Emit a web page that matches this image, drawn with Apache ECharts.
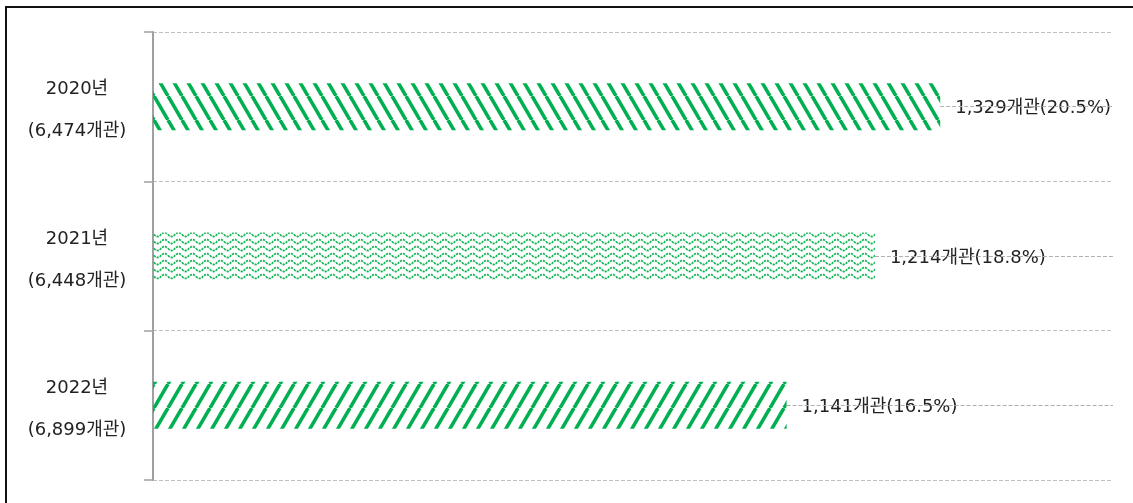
<!DOCTYPE html>
<html>
<head>
<meta charset="utf-8">
<script src="https://cdn.jsdelivr.net/npm/echarts@6/dist/echarts.min.js"></script>
<style>
  html, body { margin: 0; padding: 0; background: #fff; overflow: hidden; }
  #frame { position: absolute; left: 5px; top: 6px; width: 1140px; height: 520px;
           border-left: 2px solid #111; border-top: 2px solid #111; }
  #chart { position: absolute; left: 0; top: 0; width: 1133px; height: 503px; }
</style>
</head>
<body>
<div id="frame"></div>
<div id="chart"></div>
<script>
// ---- data ----
var years = ['2020년', '2021년', '2022년'];
var totals = ['6,474', '6,448', '6,899'];
var counts = ['1,329', '1,214', '1,141'];
var percents = [20.5, 18.8, 16.5];
var axisMax = 25;

// ---- patterns ----
function stripePattern(dir) {
  var w = 14, h = 24;
  var c = document.createElement('canvas');
  c.width = w; c.height = h;
  var g = c.getContext('2d');
  g.strokeStyle = '#00b050';
  g.lineWidth = 3.6;
  g.lineCap = 'butt';
  for (var k = -1; k <= 1; k++) {
    g.beginPath();
    if (dir === 'down') { g.moveTo(k * w, 0); g.lineTo(k * w + w, h); }
    else { g.moveTo(k * w, h); g.lineTo(k * w + w, 0); }
    g.stroke();
  }
  return c;
}
function wavePattern() {
  var w = 14, h = 7;
  var c = document.createElement('canvas');
  c.width = w; c.height = h;
  var g = c.getContext('2d');
  g.strokeStyle = '#14b556';
  g.lineWidth = 1.8;
  g.setLineDash([2.2, 1]);
  g.beginPath();
  for (var x = 0; x <= w; x += 0.5) {
    var y = 3.5 + 2 * Math.sin(2 * Math.PI * x / w);
    if (x === 0) g.moveTo(x, y); else g.lineTo(x, y);
  }
  g.stroke();
  return c;
}
var patterns = [stripePattern('down'), wavePattern(), stripePattern('up')];

var barData = percents.map(function (v, i) {
  return { value: v, itemStyle: { color: { image: patterns[i], repeat: 'repeat' } } };
});
var guideLines = percents.map(function (v, i) {
  return [{ coord: [v, years[i]] }, { coord: [axisMax, years[i]] }];
});

var chart = echarts.init(document.getElementById('chart'));
chart.setOption({
  animation: false,
  backgroundColor: 'transparent',
  grid: { left: 153, right: 20, top: 32, bottom: 23, containLabel: false },
  xAxis: {
    type: 'value', min: 0, max: axisMax,
    axisLine: { show: false }, axisTick: { show: false },
    axisLabel: { show: false }, splitLine: { show: false }
  },
  yAxis: {
    type: 'category', inverse: true, data: years,
    axisLine: { show: true, lineStyle: { color: '#a0a0a0', width: 2 } },
    axisTick: { show: true, length: 9, lineStyle: { color: '#a0a0a0', width: 1.5 } },
    splitLine: { show: true, interval: 0, lineStyle: { color: '#c0c0c0', type: [4, 2], width: 1 } },
    axisLabel: {
      margin: 76, align: 'center',
      fontFamily: 'DejaVu Sans, Noto Sans CJK KR, sans-serif',
      fontSize: 18, color: '#222', lineHeight: 42,
      rich: {
        a: { fontFamily: 'DejaVu Sans, Noto Sans CJK KR, sans-serif', fontSize: 18, color: '#222',
             lineHeight: 42, padding: [8, 0, 0, 0], align: 'center' },
        b: { fontFamily: 'DejaVu Sans, Noto Sans CJK KR, sans-serif', fontSize: 18, color: '#222',
             lineHeight: 42, padding: [8, 0, 0, 0], align: 'center' }
      },
      formatter: function (val, idx) { return '{a|' + val + '}\n{b|(' + totals[idx] + '개관)}'; }
    }
  },
  series: [{
    type: 'bar', data: barData, barWidth: 47,
    label: {
      show: true, position: 'right', distance: 15, offset: [0, 2],
      fontFamily: 'DejaVu Sans, Noto Sans CJK KR, sans-serif',
      fontSize: 18, color: '#222',
      formatter: function (p) { return counts[p.dataIndex] + '개관(' + percents[p.dataIndex] + '%)'; }
    },
    markLine: {
      silent: true, symbol: 'none', label: { show: false },
      lineStyle: { color: '#b0b0b0', type: [4, 2], width: 1 },
      data: guideLines
    }
  }]
});
</script>
</body>
</html>
